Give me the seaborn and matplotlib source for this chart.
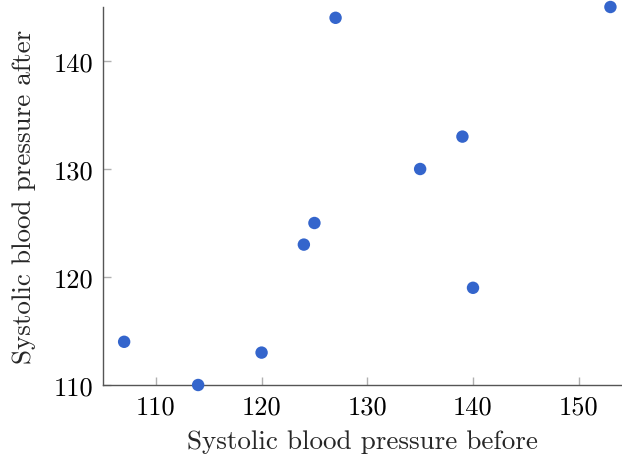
import matplotlib
matplotlib.use("Agg")
import matplotlib.pyplot as plt
import seaborn as sns
import pandas as pd

before = [107, 114, 120, 124, 125, 127, 135, 139, 140, 153]
after = [114, 110, 113, 123, 125, 144, 130, 133, 119, 145]
x_ticks = [110, 120, 130, 140, 150]
y_ticks = [110, 120, 130, 140]

df = pd.DataFrame({"before": before, "after": after})

sns.set_theme(style="white")
plt.rcParams["font.family"] = ["cmr10", "DejaVu Serif"]
plt.rcParams["mathtext.fontset"] = "cm"
plt.rcParams["axes.formatter.use_mathtext"] = True

fig = plt.figure(figsize=(6.22, 4.56), dpi=100)
ax = fig.add_axes([103/622, 70/456, (621-103)/622, (386-8)/456])

sns.scatterplot(data=df, x="before", y="after", ax=ax, color="#3465CC",
                s=80, edgecolor="none", clip_on=False, zorder=3)

fs = 19
ax.set_xlim(105, 154)
ax.set_ylim(110, 145)
ax.set_xticks(x_ticks)
ax.set_yticks(y_ticks)
ax.set_xticklabels([str(t) for t in x_ticks], fontsize=fs)
ax.set_yticklabels([str(t) for t in y_ticks], fontsize=fs)
ax.tick_params(direction="in", length=6, width=1, color="#b0b0b0",
               labelcolor="black", pad=7, bottom=True, left=True)
for s in ["top", "right"]:
    ax.spines[s].set_visible(False)
for s in ["left", "bottom"]:
    ax.spines[s].set_color("#555555")
    ax.spines[s].set_linewidth(1.0)
ax.set_xlabel("Systolic blood pressure before", fontsize=19.5, labelpad=8)
ax.set_ylabel("Systolic blood pressure after", fontsize=19.5, labelpad=13)
ax.grid(False)

fig.savefig("out.png", dpi=100)
